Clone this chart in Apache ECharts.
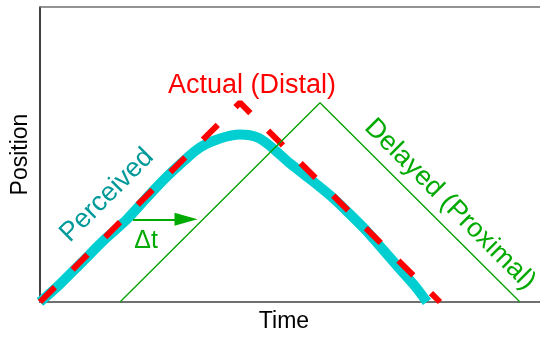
<!DOCTYPE html>
<html>
<head>
<meta charset="utf-8">
<script src="https://cdn.jsdelivr.net/npm/echarts@6/dist/echarts.min.js"></script>
<style>
html,body{margin:0;padding:0;background:#fff;}
#chart{width:540px;height:338px;}
</style>
</head>
<body>
<div id="chart"></div>
<script>
// Data (time, position)
var actual = [[0, 0], [200, 200], [400, 0]];
var delayed = [[80, 0], [280, 200], [480, 0]];
var perceived = [[0,0],[20,18],[42,40],[65,63],[87,83],[107,105],[125,124],[142,140],[160,155],[180,164],[200,168],[218,165],[232,155],[250,139],[273,121],[290,107],[307,91],[325,73],[340,56],[360,33],[375,16],[387,0]];
var deltaArrow = [[93, 83], [146, 83]];
var labels = {
  actual: 'Actual (Distal)',
  perceived: 'Perceived',
  delayed: 'Delayed (Proximal)',
  delta: '\u0394t',
  xName: 'Time',
  yName: 'Position'
};
var labelAnchors = {
  actual: [212, 217],
  perceived: [67, 107],
  delayed: [410, 98],
  delta: [106, 61]
};

var chart = echarts.init(document.getElementById('chart'));
var font = 'Liberation Sans, Arial, Helvetica, sans-serif';
chart.setOption({
  animation: false,
  grid: {left: 40, top: 7, right: 0, bottom: 35},
  xAxis: [{
    type: 'value', min: 0, max: 500, position: 'bottom',
    name: labels.xName, nameLocation: 'middle', nameGap: 8,
    nameTextStyle: {fontSize: 23, color: '#000', fontFamily: font, padding: [0, 12, 0, 0], verticalAlign: 'top'},
    axisLine: {onZero: false, lineStyle: {color: '#707070', width: 2}},
    axisTick: {show: false}, axisLabel: {show: false}, splitLine: {show: false}
  }, {
    type: 'value', min: 0, max: 500, position: 'top',
    axisLine: {onZero: false, lineStyle: {color: '#707070', width: 1.5}},
    axisTick: {show: false}, axisLabel: {show: false}, splitLine: {show: false}
  }],
  yAxis: {
    type: 'value', min: 0, max: 296,
    name: labels.yName, nameLocation: 'middle', nameGap: 8, nameRotate: 90,
    nameTextStyle: {fontSize: 23, color: '#000', fontFamily: font},
    axisLine: {onZero: false, lineStyle: {color: '#000', width: 1.5}},
    axisTick: {show: false}, axisLabel: {show: false}, splitLine: {show: false}
  },
  series: [{
    type: 'line', data: perceived, smooth: 0.3, symbol: 'none', z: 2,
    lineStyle: {color: '#00CED1', width: 10}
  }, {
    type: 'line', data: actual, symbol: 'none', z: 3,
    lineStyle: {color: '#ff0000', width: 6, type: [21, 25], cap: 'butt'}
  }, {
    type: 'line', data: delayed, symbol: 'none', z: 4,
    lineStyle: {color: '#00a000', width: 1.3}
  }, {
    type: 'line', data: [], z: 4,
    markLine: {
      silent: true, symbol: ['none', 'triangle'], symbolSize: [13, 23],
      label: {show: false},
      lineStyle: {color: '#00aa00', width: 2, type: 'solid'},
      data: [[{coord: deltaArrow[0]}, {coord: deltaArrow[1]}]]
    }
  }]
});

function px(p){ return chart.convertToPixel({xAxisIndex: 0, yAxisIndex: 0}, p); }
var pa = px(labelAnchors.actual), pp = px(labelAnchors.perceived), pd = px(labelAnchors.delayed), pt = px(labelAnchors.delta);
chart.setOption({
  graphic: [
    {type: 'text', x: pa[0], y: pa[1], style: {text: labels.actual, fill: '#ff0000', font: '27px ' + font, align: 'center', verticalAlign: 'middle'}},
    {type: 'text', x: pp[0], y: pp[1], rotation: Math.PI / 4, style: {text: labels.perceived, fill: '#009999', font: '27px ' + font, align: 'center', verticalAlign: 'middle'}},
    {type: 'text', x: pd[0], y: pd[1], rotation: -Math.PI / 4, style: {text: labels.delayed, fill: '#00aa00', font: '27px ' + font, align: 'center', verticalAlign: 'middle'}},
    {type: 'text', x: pt[0], y: pt[1], style: {text: labels.delta, fill: '#00aa00', font: '25px ' + font, align: 'center', verticalAlign: 'middle'}}
  ]
});
</script>
</body>
</html>
